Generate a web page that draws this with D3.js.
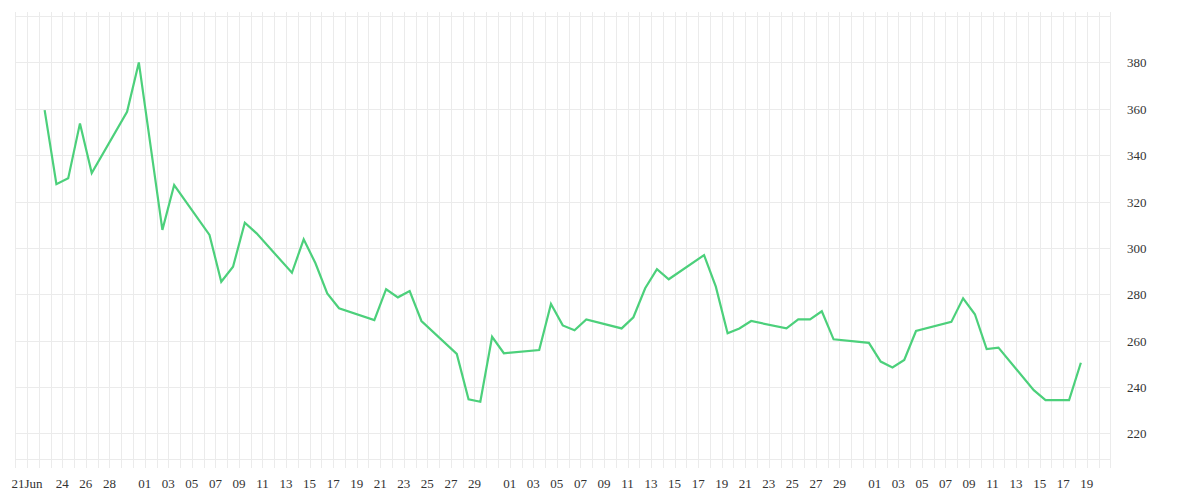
<!DOCTYPE html>
<html>
<head>
<meta charset="utf-8">
<script src="https://cdn.jsdelivr.net/npm/d3@7"></script>
<style>
  body { margin: 0; background: #fff; }
  text { font-family: "Liberation Serif", "DejaVu Serif", serif; font-size: 13px; fill: #333; }
</style>
</head>
<body>
<div id="vis"></div>
<script>
// trading days (2020) and closing values
var dates = [
  '2020-06-22','2020-06-23','2020-06-24','2020-06-25','2020-06-26',
  '2020-06-29','2020-06-30','2020-07-02','2020-07-03',
  '2020-07-06','2020-07-07','2020-07-08','2020-07-09','2020-07-10',
  '2020-07-13','2020-07-14','2020-07-15','2020-07-16','2020-07-17',
  '2020-07-20','2020-07-21','2020-07-22','2020-07-23','2020-07-24',
  '2020-07-27','2020-07-28','2020-07-29','2020-07-30','2020-07-31',
  '2020-08-03','2020-08-04','2020-08-05','2020-08-06','2020-08-07',
  '2020-08-10','2020-08-11','2020-08-12','2020-08-13','2020-08-14',
  '2020-08-17','2020-08-18','2020-08-19','2020-08-20','2020-08-21',
  '2020-08-24','2020-08-25','2020-08-26','2020-08-27','2020-08-28',
  '2020-08-31','2020-09-01','2020-09-02','2020-09-03','2020-09-04',
  '2020-09-07','2020-09-08','2020-09-09','2020-09-10','2020-09-11',
  '2020-09-14','2020-09-15','2020-09-16','2020-09-17','2020-09-18'
];
var values = [
  359.4, 327.5, 330.0, 353.7, 332.3,
  358.7, 380.0, 307.8, 327.1,
  305.6, 285.4, 291.9, 310.9, 306.3,
  289.3, 303.7, 293.4, 280.4, 274.0,
  268.9, 282.2, 278.7, 281.4, 268.5,
  254.3, 234.7, 233.7, 261.7, 254.6,
  256.0, 275.8, 266.6, 264.5, 269.2,
  265.3, 270.1, 282.6, 290.8, 286.5,
  296.9, 283.3, 263.2, 265.3, 268.5,
  265.3, 269.2, 269.2, 272.7, 260.6,
  259.1, 251.0, 248.5, 251.7, 264.2,
  268.1, 278.3, 271.4, 256.4, 257.0,
  238.7, 234.4, 234.4, 234.4, 250.5
];

// x axis labels
var tickDates = [
  '2020-06-21','2020-06-24','2020-06-26','2020-06-28',
  '2020-07-01','2020-07-03','2020-07-05','2020-07-07','2020-07-09','2020-07-11','2020-07-13','2020-07-15',
  '2020-07-17','2020-07-19','2020-07-21','2020-07-23','2020-07-25','2020-07-27','2020-07-29',
  '2020-08-01','2020-08-03','2020-08-05','2020-08-07','2020-08-09','2020-08-11','2020-08-13','2020-08-15',
  '2020-08-17','2020-08-19','2020-08-21','2020-08-23','2020-08-25','2020-08-27','2020-08-29',
  '2020-09-01','2020-09-03','2020-09-05','2020-09-07','2020-09-09','2020-09-11','2020-09-13','2020-09-15',
  '2020-09-17','2020-09-19'
];
var firstTickLabel = '21Jun';

// y axis ticks
var yTicks = [220, 240, 260, 280, 300, 320, 340, 360, 380];

(function () {
  var svgW = 1200, svgH = 500;
  var plotLeft = 15.2, plotRight = 1110.3, plotTop = 16, plotBottom = 459;

  var parse = d3.utcParse('%Y-%m-%d');
  var svg = d3.select('#vis').append('svg').attr('width', svgW).attr('height', svgH);

  var x = d3.scaleUtc()
    .domain([parse('2020-06-20'), parse('2020-09-21')])
    .range([plotLeft, plotRight]);
  var y = d3.scaleLinear().domain([209, 400]).range([plotBottom, plotTop]);

  var grid = svg.append('g').attr('class', 'grid');

  // vertical day lines
  var days = d3.utcDay.range(parse('2020-06-20'), d3.utcDay.offset(parse('2020-09-21'), 1));
  grid.selectAll('.vGrid').data(days).enter().append('line').attr('class', 'vGrid')
    .attr('x1', function(d){ return Math.round(x(d)) + 0.5; })
    .attr('x2', function(d){ return Math.round(x(d)) + 0.5; })
    .attr('y1', plotTop - 4).attr('y2', plotBottom + 9)
    .attr('stroke', '#ebebeb').attr('stroke-width', 1);

  // horizontal lines: ticks plus top/bottom border
  var hLines = yTicks.map(function(t){ return y(t); }).concat([y(400), plotBottom]);
  grid.selectAll('.hGrid').data(hLines).enter().append('line').attr('class', 'hGrid')
    .attr('x1', plotLeft).attr('x2', plotRight)
    .attr('y1', function(d){ return Math.round(d) + 0.5; })
    .attr('y2', function(d){ return Math.round(d) + 0.5; })
    .attr('stroke', '#ebebeb').attr('stroke-width', 1);

  // y labels on the right
  svg.selectAll('.yLabel').data(yTicks).enter().append('text').attr('class', 'yLabel')
    .attr('x', 1127).attr('y', function(d){ return y(d) + 5; })
    .text(String);

  // x labels
  svg.selectAll('.xLabel').data(tickDates).enter().append('text').attr('class', 'xLabel')
    .attr('x', function(d){ return x(parse(d)); })
    .attr('y', 488)
    .attr('text-anchor', 'middle')
    .text(function(d, i){ return i === 0 ? firstTickLabel : d.slice(8); });

  // the line; points sit at mid-day
  var data = dates.map(function(d, i){ return [d3.utcHour.offset(parse(d), 12), values[i]]; });
  var line = d3.line()
    .x(function(d){ return x(d[0]); })
    .y(function(d){ return y(d[1]); });

  svg.append('path').datum(data)
    .attr('d', line)
    .attr('fill', 'none')
    .attr('stroke', '#4cd07b')
    .attr('stroke-width', 2.2)
    .attr('stroke-linejoin', 'miter');
})();
</script>
</body>
</html>
